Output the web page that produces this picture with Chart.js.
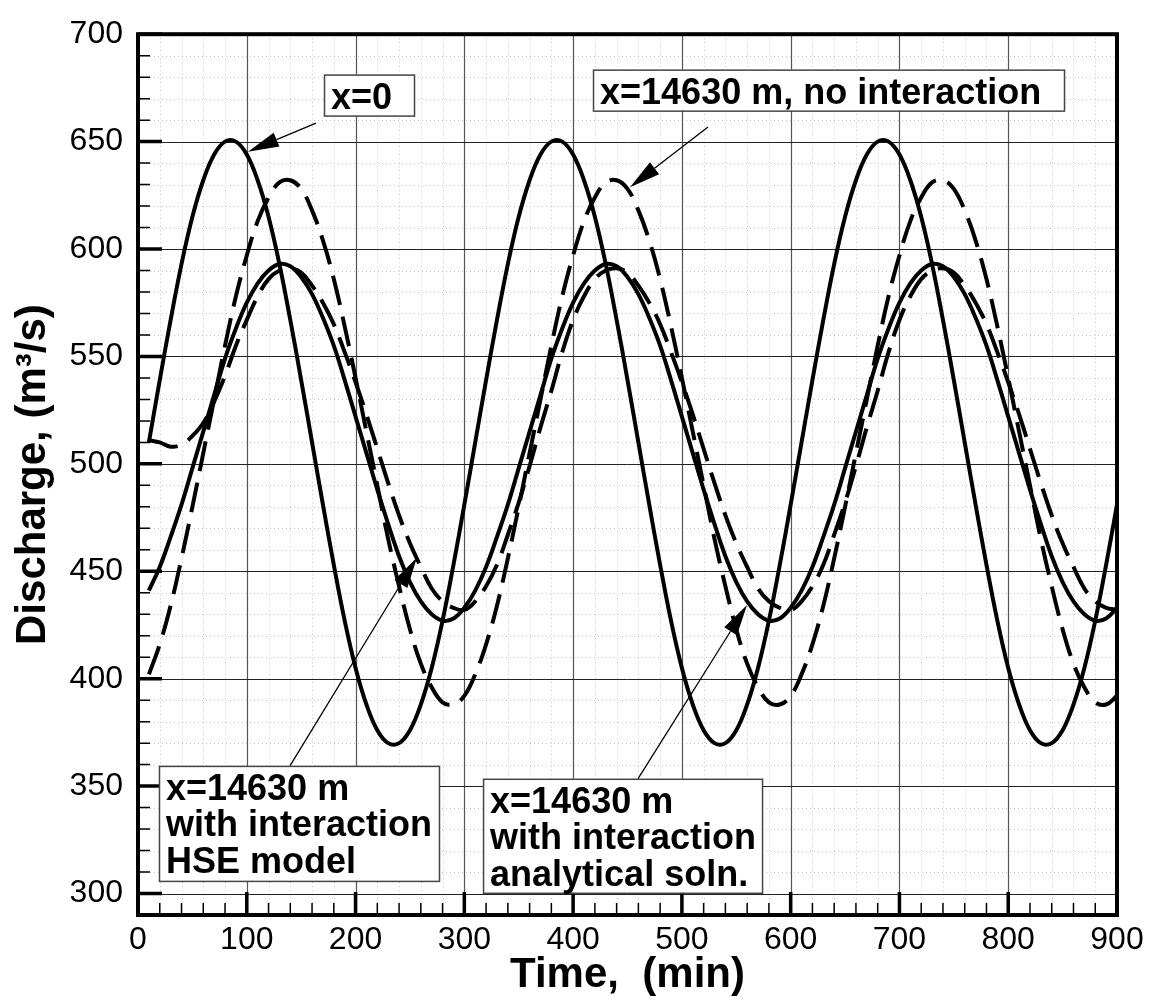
<!DOCTYPE html>
<html lang="en">
<head>
<meta charset="utf-8">
<script src="https://cdn.jsdelivr.net/npm/chart.js@4.4.1/dist/chart.umd.min.js"></script>
<style>
  html, body { margin: 0; padding: 0; background: #fff; }
  canvas { display: block; }
</style>
</head>
<body>
<canvas id="chart" width="1154" height="1007"></canvas>
<script>
// time (min)
const times = [10,20,30,40,50,60,70,80,90,100,110,120,130,140,150,160,170,180,190,200,
  210,220,230,240,250,260,270,280,290,300,310,320,330,340,350,360,370,380,390,400,
  410,420,430,440,450,460,470,480,490,500,510,520,530,540,550,560,570,580,590,600,
  610,620,630,640,650,660,670,680,690,700,710,720,730,740,750,760,770,780,790,800,
  810,820,830,840,850,860,870,880,890,900];

// discharge (m3/s) at x=0
const qInflow = [510,539,567,593,615,632,644,650,650,644,632,615,593,567,539,510,481,453,427,405,
  388,376,370,370,376,388,405,427,453,481,510,539,567,593,615,632,644,650,650,644,
  632,615,593,567,539,510,481,453,427,405,388,376,370,370,376,388,405,427,453,481,
  510,539,567,593,615,632,644,650,650,644,632,615,593,567,539,510,481,453,427,405,
  388,376,370,370,376,388,405,427,453,481];

// x=14630 m, no interaction
const qNoInteraction = [402,416,434,456,480,505,530,555,578,597,613,624,631,632,628,618,604,586,564,540,
  515,490,465,443,423,407,396,389,388,392,402,416,434,456,480,505,530,555,578,597,
  613,624,631,632,628,618,604,586,564,540,515,490,465,443,423,407,396,389,388,392,
  402,416,434,456,480,505,530,555,578,597,613,624,631,632,628,618,604,586,564,540,
  515,490,465,443,423,407,396,389,388,392];

// x=14630 m, with interaction, HSE model
const qHSE = [441,452,466,481,498,515,532,549,563,575,584,590,593,592,587,579,568,555,539,522,
  505,488,472,457,445,436,430,427,428,433,441,452,466,481,498,515,532,549,563,575,
  584,590,593,592,587,579,568,555,539,522,505,488,472,457,445,436,430,427,428,433,
  441,452,466,481,498,515,532,549,563,575,584,590,593,592,587,579,568,555,539,522,
  505,488,472,457,445,436,430,427,428,433];

// x=14630 m, with interaction, analytical solution
const qAnalytical = [511,510,508,509,513,519,529,541,555,567,578,586,590,591,589,583,575,565,552,538,
  523,507,491,476,463,452,442,436,433,432,436,443,453,467,482,499,517,534,552,567,
  578,586,590,591,589,583,575,565,552,538,523,507,491,476,463,452,442,436,433,432,
  436,443,453,467,482,499,517,534,552,567,578,586,590,591,589,583,575,565,552,538,
  523,507,491,476,463,452,442,436,433,432];

const timeTicks = [0,100,200,300,400,500,600,700,800,900];
const dischargeTicks = [300,350,400,450,500,550,600,650,700];

const FONT = '"Liberation Sans", Arial, Helvetica, sans-serif';

// callout boxes: top-left corner and arrow ends in data units, box size in px
const callouts = [
  { lines: ['x=0'], at: [171.0, 681.2], w: 90, h: 41, from: [163.6, 658.6], to: [101.1, 645.3] },
  { lines: ['x=14630 m, no interaction'], at: [418.3, 683.5], w: 471, h: 41, from: [524.0, 656.8], to: [452.3, 628.8] },
  { lines: ['x=14630 m', 'with interaction', 'HSE model'], at: [19.3, 359.4], w: 280, h: 115, from: [139.7, 359.4], to: [256.5, 456.4] },
  { lines: ['x=14630 m', 'with interaction', 'analytical soln.'], at: [317.2, 353.4], w: 279, h: 114, from: [459.6, 353.4], to: [559.9, 434.3] }
];

function series(values) {
  return times.map((t, i) => ({ x: t, y: values[i] }));
}

function line(values, dashed) {
  return {
    data: series(values),
    borderColor: '#000',
    borderWidth: 4,
    borderDash: dashed ? [30, 12] : [],
    pointRadius: 0,
    tension: 0.4,
    fill: false
  };
}

const framePlugin = {
  id: 'frame',
  beforeDatasetsDraw(chart) {
    const { ctx, chartArea: a, scales: { x, y } } = chart;
    ctx.save();
    // fine dotted grid
    ctx.strokeStyle = '#c4c4c4';
    ctx.lineWidth = 1;
    ctx.setLineDash([1, 3]);
    ctx.beginPath();
    for (let t = 20; t < 900; t += 20) {
      if (t % 100 === 0) continue;
      const px = Math.round(x.getPixelForValue(t)) + 0.5;
      ctx.moveTo(px, a.top); ctx.lineTo(px, a.bottom);
    }
    for (let q = 300; q < 700; q += 10) {
      if (q % 50 === 0) continue;
      const py = Math.round(y.getPixelForValue(q)) + 0.5;
      ctx.moveTo(a.left, py); ctx.lineTo(a.right, py);
    }
    ctx.stroke();
    ctx.setLineDash([]);
    // main grid
    ctx.strokeStyle = '#555';
    ctx.lineWidth = 1.2;
    ctx.beginPath();
    timeTicks.forEach(t => {
      const px = Math.round(x.getPixelForValue(t)) + 0.5;
      ctx.moveTo(px, a.top); ctx.lineTo(px, a.bottom);
    });
    ctx.stroke();
    ctx.strokeStyle = '#222';
    ctx.lineWidth = 1;
    ctx.beginPath();
    dischargeTicks.forEach(q => {
      const py = Math.round(y.getPixelForValue(q)) + 0.5;
      ctx.moveTo(a.left, py); ctx.lineTo(a.right, py);
    });
    ctx.stroke();
    ctx.restore();
  },
  afterDatasetsDraw(chart) {
    const { ctx, chartArea: a, scales: { x, y } } = chart;
    ctx.save();
    ctx.strokeStyle = '#000';
    // minor ticks
    ctx.lineWidth = 1.5;
    ctx.beginPath();
    for (let t = 20; t < 900; t += 20) {
      if (t % 100 === 0) continue;
      const px = x.getPixelForValue(t);
      ctx.moveTo(px, a.bottom); ctx.lineTo(px, a.bottom - 12);
    }
    for (let q = 300; q < 700; q += 10) {
      if (q % 50 === 0) continue;
      const py = y.getPixelForValue(q);
      ctx.moveTo(a.left, py); ctx.lineTo(a.left + 12, py);
    }
    ctx.stroke();
    // major ticks
    ctx.lineWidth = 3.5;
    ctx.beginPath();
    timeTicks.forEach(t => {
      const px = x.getPixelForValue(t);
      ctx.moveTo(px, a.bottom); ctx.lineTo(px, a.bottom - 23);
    });
    dischargeTicks.forEach(q => {
      const py = y.getPixelForValue(q);
      ctx.moveTo(a.left, py); ctx.lineTo(a.left + 24, py);
    });
    ctx.stroke();
    // frame
    ctx.lineWidth = 4;
    ctx.strokeRect(a.left, a.top, a.right - a.left, a.bottom - a.top);

    // callouts
    callouts.forEach(c => {
      const x0 = x.getPixelForValue(c.at[0]);
      const y0 = y.getPixelForValue(c.at[1]);
      const fx = x.getPixelForValue(c.from[0]), fy = y.getPixelForValue(c.from[1]);
      const tx = x.getPixelForValue(c.to[0]), ty = y.getPixelForValue(c.to[1]);
      const ang = Math.atan2(ty - fy, tx - fx);
      const len = 31, half = 7.5;
      const bx = tx - len * Math.cos(ang), by = ty - len * Math.sin(ang);
      ctx.lineWidth = 1.3;
      ctx.beginPath();
      ctx.moveTo(fx, fy); ctx.lineTo(bx, by);
      ctx.stroke();
      ctx.fillStyle = '#000';
      ctx.beginPath();
      ctx.moveTo(tx, ty);
      ctx.lineTo(bx + half * Math.sin(ang), by - half * Math.cos(ang));
      ctx.lineTo(bx - half * Math.sin(ang), by + half * Math.cos(ang));
      ctx.closePath();
      ctx.fill();

      ctx.fillStyle = '#fff';
      ctx.fillRect(x0, y0, c.w, c.h);
      ctx.strokeStyle = '#444';
      ctx.lineWidth = 1.5;
      ctx.strokeRect(x0 + 0.5, y0 + 0.5, c.w, c.h);
      ctx.strokeStyle = '#000';
      ctx.fillStyle = '#000';
      ctx.font = 'bold 36px ' + FONT;
      ctx.textAlign = 'left';
      ctx.textBaseline = 'alphabetic';
      c.lines.forEach((s, i) => ctx.fillText(s, x0 + 7, y0 + 34 + i * 36.5));
    });
    ctx.restore();
  }
};

new Chart(document.getElementById('chart'), {
  type: 'line',
  data: {
    datasets: [
      line(qInflow, false),
      line(qNoInteraction, true),
      line(qHSE, false),
      line(qAnalytical, true)
    ]
  },
  options: {
    responsive: false,
    animation: false,
    devicePixelRatio: 1,
    layout: { padding: { top: 23, right: 37, left: 0, bottom: 0 } },
    plugins: { legend: { display: false }, tooltip: { enabled: false } },
    scales: {
      x: {
        type: 'linear',
        min: 0,
        max: 900,
        afterBuildTicks: s => { s.ticks = timeTicks.map(v => ({ value: v })); },
        afterFit: s => { s.height = 92; },
        grid: { display: false, drawTicks: false },
        border: { display: false },
        ticks: { color: '#000', font: { family: FONT, size: 32 }, padding: 6, maxRotation: 0, autoSkip: false },
        title: { display: true, text: 'Time,  (min)', color: '#000', font: { family: FONT, size: 42, weight: 'bold' }, padding: { top: 0, bottom: 6 } }
      },
      y: {
        type: 'linear',
        min: 290,
        max: 700,
        afterBuildTicks: s => { s.ticks = dischargeTicks.map(v => ({ value: v })); },
        afterFit: s => { s.width = 138; },
        grid: { display: false, drawTicks: false },
        border: { display: false },
        ticks: { color: '#000', font: { family: FONT, size: 32 }, padding: 15, autoSkip: false },
        title: { display: true, text: 'Discharge, (m³/s)', color: '#000', font: { family: FONT, size: 42, weight: 'bold' }, padding: { top: 8, bottom: 0 } }
      }
    }
  },
  plugins: [framePlugin]
});
</script>
</body>
</html>
